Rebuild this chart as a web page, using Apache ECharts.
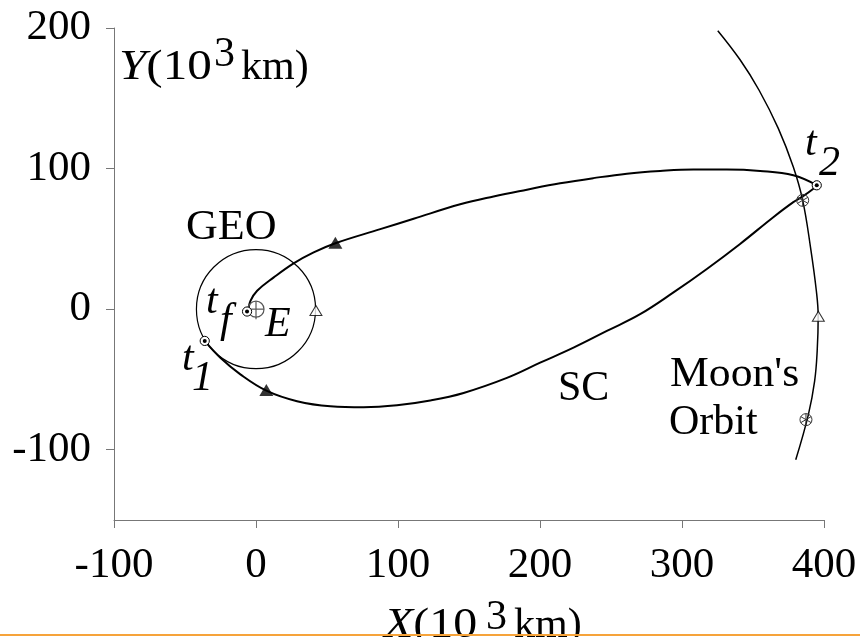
<!DOCTYPE html>
<html><head><meta charset="utf-8">
<script src="https://cdn.jsdelivr.net/npm/echarts@6/dist/echarts.min.js"></script>
<style>html,body{margin:0;padding:0;background:#fff}#c{width:860px;height:637px}</style>
</head><body><div id="c"></div>
<script>
// ---- data (10^3 km) ----
const xTicks = [-100, 0, 100, 200, 300, 400];
const yTicks = [-100, 0, 100, 200];
// spacecraft: t1 -> t2 (outbound, lower branch)
const outbound = [[-36.1,-22.6],[-25.1,-34.6],[-11.0,-46.4],[7.3,-58.0],[28.9,-65.5],[52.4,-69.1],[75.8,-69.8],[99.3,-68.4],[122.7,-65.0],[146.2,-59.6],[176.7,-48.9],[200.1,-38.1],[223.6,-27.4],[247.1,-15.5],[270.5,-3.6],[294.0,11.9],[317.5,28.6],[340.9,46.4],[364.3,65.4],[378.4,76.1],[385.0,80.2],[392.5,85.7],[394.9,88.1]];
// spacecraft: t2 -> tf (return, upper branch)
const inbound = [[394.9,88.1],[378.4,95.2],[355.0,98.3],[331.5,99.3],[308.0,99.3],[284.6,98.3],[261.2,96.4],[237.6,93.2],[214.2,89.5],[190.8,85.0],[167.3,80.2],[143.8,74.6],[111.0,64.3],[87.5,56.9],[55.9,46.9],[40.6,40.4],[26.5,32.6],[12.5,22.6],[0.8,13.1],[-3.9,5.9],[-5.6,-0.7],[-6.3,-1.7]];
// Moon's orbit arc
const moonOrbit = [[325.2,198.1],[340.9,177.4],[354.2,155.9],[367.8,128.6],[378.4,101.1],[385.0,77.4],[390.5,44.0],[394.6,13.1],[395.9,-5.0],[395.2,-29.8],[393.4,-51.2],[389.0,-75.0],[380.1,-107.1]];
const geoOrbit = [[0, 0, 42.164]];           // centre x, centre y, radius
const earth = [[0, 0]];
const epochs = [[-36.1,-22.6],[394.9,88.1],[-6.3,-1.7]]; // t1, t2, tf
const moonPositions = [[385.0,77.4],[387.3,-78.6]];
const filledTriangles = [[55.9,47.2],[7.3,-57.6]];
const openTriangles = [[42.2,-1.0],[396.0,-5.0]];

const FONT = '"Liberation Serif", "Times New Roman", serif';
const FS = 42;
const chart = echarts.init(document.getElementById('c'), null, {renderer: 'canvas'});

function txt(text, x, y, italic, extra) {
  return Object.assign({
    type: 'text', x: x, y: y, z: 50,
    style: { text: text, fontFamily: FONT, fontSize: FS, fontStyle: italic ? 'italic' : 'normal',
             fill: '#000', align: 'left', verticalAlign: 'middle' }
  }, extra || {});
}
function richTitle(letter, x, y, sx) {
  return { type: 'text', x: x, y: y, z: 50, scaleX: sx,
    style: { text: '{i|' + letter + '}{n|(10}', fill: '#000', verticalAlign: 'middle',
             rich: { i: { fontFamily: FONT, fontSize: FS, fontStyle: 'italic', fill: '#000' },
                     n: { fontFamily: FONT, fontSize: FS, fill: '#000' } } } };
}

const option = {
  animation: false,
  backgroundColor: '#fff',
  grid: { left: 114, right: 36, top: 28, bottom: 117 },
  xAxis: {
    type: 'value', min: -100, max: 400, interval: 100,
    axisLine: { onZero: false, lineStyle: { color: '#777', width: 1 } },
    axisTick: { show: true, length: 8, lineStyle: { color: '#777' } },
    axisLabel: { fontFamily: FONT, fontSize: 43, color: '#000', margin: 24,
                 customValues: xTicks },
    splitLine: { show: false }
  },
  yAxis: {
    type: 'value', min: -150, max: 200,
    axisLine: { show: true, onZero: false, lineStyle: { color: '#777', width: 1 } },
    axisTick: { show: true, length: 8, lineStyle: { color: '#777' }, customValues: yTicks },
    axisLabel: { fontFamily: FONT, fontSize: 43, color: '#000', margin: 23, customValues: yTicks },
    splitLine: { show: false }
  },
  series: [
    { type: 'custom', data: geoOrbit, silent: true, z: 2,
      renderItem: function (p, api) {
        const c = api.coord([api.value(0), api.value(1)]);
        const s = api.size([api.value(2), api.value(2)]);
        return { type: 'circle', shape: { cx: c[0], cy: c[1], r: (s[0] + s[1]) / 2 },
                 style: { fill: 'none', stroke: '#000', lineWidth: 1.2 } };
      } },
    { type: 'line', data: moonOrbit, smooth: 0.4, symbol: 'none', z: 2,
      lineStyle: { color: '#000', width: 1.5 } },
    { type: 'line', data: outbound, smooth: 0.4, symbol: 'none', z: 3,
      lineStyle: { color: '#000', width: 2 } },
    { type: 'line', data: inbound, smooth: 0.4, symbol: 'none', z: 3,
      lineStyle: { color: '#000', width: 2 } },
    { type: 'custom', data: earth, silent: true, z: 5,
      renderItem: function (p, api) {
        const c = api.coord([api.value(0), api.value(1)]);
        const st = { stroke: '#555', lineWidth: 1.2, fill: 'none' };
        return { type: 'group', children: [
          { type: 'circle', shape: { cx: c[0], cy: c[1], r: 8 }, style: st },
          { type: 'line', shape: { x1: c[0] - 8, y1: c[1], x2: c[0] + 8, y2: c[1] }, style: st },
          { type: 'line', shape: { x1: c[0], y1: c[1] - 8, x2: c[0], y2: c[1] + 10 }, style: st }
        ] };
      } },
    { type: 'custom', data: moonPositions, silent: true, z: 5,
      renderItem: function (p, api) {
        const c = api.coord([api.value(0), api.value(1)]);
        const st = { stroke: '#333', lineWidth: 1, fill: 'none' };
        const r = 6, ch = [{ type: 'circle', shape: { cx: c[0], cy: c[1], r: r }, style: st }];
        [90, 30, 150].forEach(function (a) {
          const dx = Math.cos(a * Math.PI / 180) * r, dy = Math.sin(a * Math.PI / 180) * r;
          ch.push({ type: 'line', shape: { x1: c[0] - dx, y1: c[1] - dy, x2: c[0] + dx, y2: c[1] + dy }, style: st });
        });
        return { type: 'group', children: ch };
      } },
    { type: 'custom', data: epochs, silent: true, z: 6,
      renderItem: function (p, api) {
        const c = api.coord([api.value(0), api.value(1)]);
        return { type: 'group', children: [
          { type: 'circle', shape: { cx: c[0], cy: c[1], r: 4.6 }, style: { fill: '#fff', stroke: '#000', lineWidth: 1 } },
          { type: 'circle', shape: { cx: c[0], cy: c[1], r: 2 }, style: { fill: '#000' } }
        ] };
      } },
    { type: 'scatter', data: filledTriangles, symbol: 'triangle', symbolSize: [14, 12], z: 6,
      itemStyle: { color: '#000' }, silent: true },
    { type: 'scatter', data: openTriangles, symbol: 'triangle', symbolSize: [12, 10], z: 6,
      itemStyle: { color: '#fff', borderColor: '#000', borderWidth: 1 }, silent: true }
  ],
  graphic: [
    richTitle('Y', 119, 68, 1.17),
    txt('3', 214, 55, false),
    txt('km)', 241, 68, false),
    richTitle('X', 384, 626, 1.14),
    txt('3', 486, 618, false),
    txt('km)', 514, 626, false),
    txt('GEO', 186, 228, false, { scaleX: 1.05 }),
    txt('E', 265, 325, true),
    txt('t', 206, 302, true),
    txt('f', 220, 321, true),
    txt('t', 182, 359, true),
    txt('1', 192, 379, true),
    txt('t', 805, 144, true),
    txt('2', 819, 164, true),
    txt('SC', 558, 389, false),
    txt("Moon's", 670, 375, false, { scaleX: 1.04 }),
    txt('Orbit', 669, 423, false),
    { type: 'line', z: 100, shape: { x1: 0, y1: 635, x2: 860, y2: 635 },
      style: { stroke: '#f6a33a', lineWidth: 2 } }
  ]
};
chart.setOption(option);
</script>
</body></html>
